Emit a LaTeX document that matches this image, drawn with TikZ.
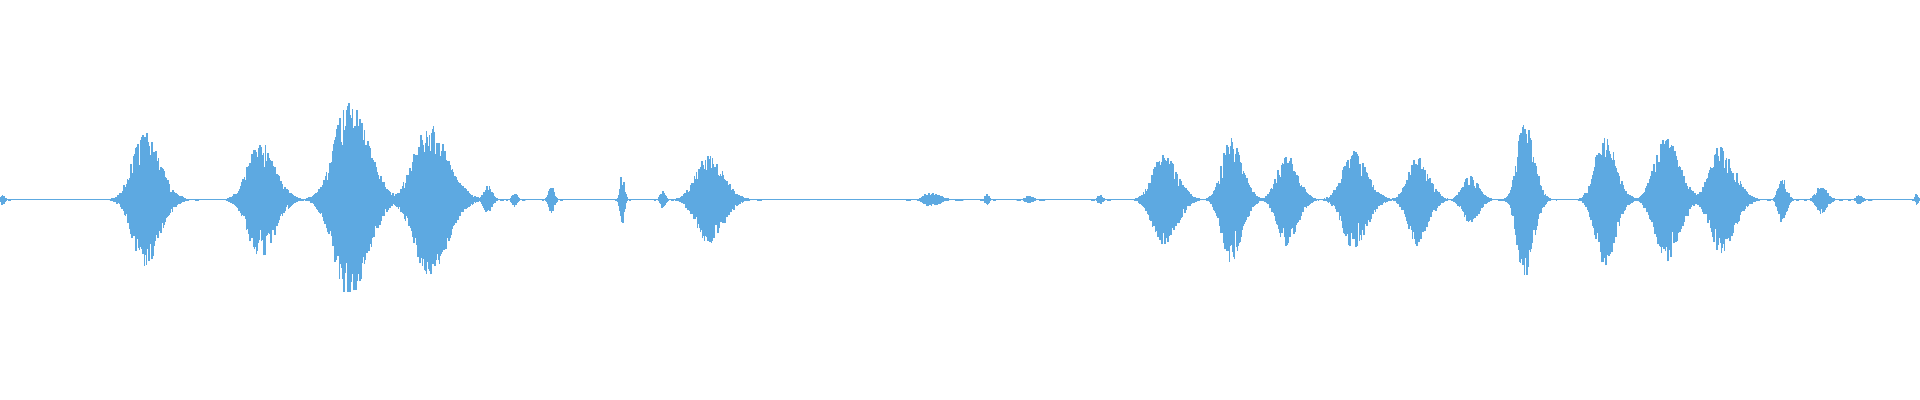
\documentclass[tikz,border=0pt]{standalone}
\definecolor{wave}{HTML}{5DA9E1}
\tikzset{
  sample/.style={draw=wave,line width=0.45pt},
  baseline/.style={draw=wave,line width=0.45pt}
}
\begin{document}
\begin{tikzpicture}[x=0.012245cm,y=0.012245cm]
  \pgfmathsetseed{42}
  \useasboundingbox (0,-163) rectangle (1568,163);
  \draw[baseline] (0,0) -- (1568,0);
  % bursts: centre / half width / amplitude
  \foreach \c/\w/\a in {2/3/5, 118/20/55, 212/20/48, 285/25/80, 350/25/62,
      398/6/12, 420/4/6, 450/4/12, 508/3/22, 541/4/7, 578/20/37,
      760/12/6, 806/3/5, 840/6/3, 898/4/4, 950/18/38, 1005/15/52,
      1050/15/38, 1105/18/40, 1157/15/38, 1200/12/20, 1245/12/65,
      1310/15/55, 1360/18/52, 1405/18/45, 1455/6/20, 1487/8/12,
      1518/5/4, 1565/2/5}{
    \pgfmathsetmacro\lo{-1.6*\w}
    \pgfmathsetmacro\nx{-1.6*\w+0.4}
    \pgfmathsetmacro\hi{2.2*\w}
    \foreach \i in {\lo,\nx,...,\hi}{
      \pgfmathsetmacro\env{\a*exp(-((\i/\w)*(\i/\w))*(\i<0?2.2:1.3))}
      \pgfmathsetmacro\up{\env*(0.45+0.55*rnd)}
      \pgfmathsetmacro\dn{\env*(0.45+0.55*rnd)}
      \draw[sample] (\c+\i,-\dn) -- (\c+\i,\up);
    }
  }
\end{tikzpicture}
\end{document}
